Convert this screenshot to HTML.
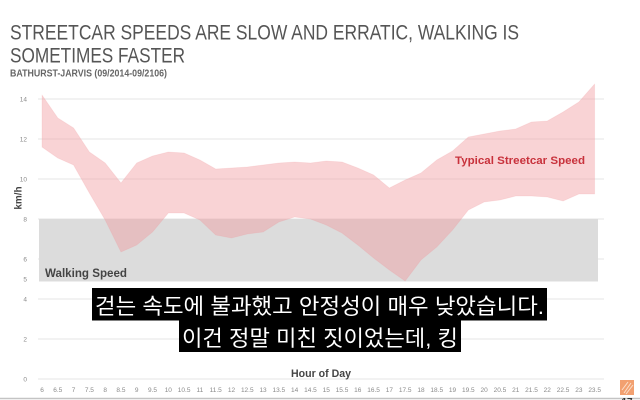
<!DOCTYPE html>
<html><head><meta charset="utf-8"><style>
html,body{margin:0;padding:0;background:#fff;}
svg{display:block;}
</style></head><body>
<svg width="640" height="400" viewBox="0 0 640 400" xmlns="http://www.w3.org/2000/svg">
<rect width="640" height="400" fill="#fff"/>
<!-- Title -->
<g font-family="Liberation Sans, sans-serif" fill="#555">
<text x="10" y="39.5" font-size="21" textLength="509" lengthAdjust="spacingAndGlyphs">STREETCAR SPEEDS ARE SLOW AND ERRATIC, WALKING IS</text>
<text x="10" y="62.5" font-size="21" textLength="175" lengthAdjust="spacingAndGlyphs">SOMETIMES FASTER</text>
<text x="10" y="76.5" font-size="10.5" font-weight="bold" fill="#666" textLength="157" lengthAdjust="spacingAndGlyphs">BATHURST-JARVIS (09/2014-09/2106)</text>
</g>
<!-- gridlines -->
<g stroke="#e6e6e6" stroke-width="1">
<line x1="38" y1="99" x2="604" y2="99"/>
<line x1="38" y1="139" x2="604" y2="139"/>
<line x1="38" y1="179" x2="604" y2="179"/>
<line x1="38" y1="219" x2="604" y2="219"/>
<line x1="38" y1="259" x2="604" y2="259"/>
<line x1="38" y1="299" x2="604" y2="299"/>
<line x1="38" y1="339" x2="604" y2="339"/>
<line x1="38" y1="379" x2="604" y2="379"/>
</g>
<!-- walking speed box -->
<rect x="39" y="219" width="559" height="62.5" fill="#dcdcdc"/>
<!-- band -->
<polygon fill="rgba(241,150,154,0.42)" stroke="rgba(241,150,154,0.2)" stroke-width="0.8" stroke-linejoin="round" points="42,95 57.79,118 73.58,128 89.37,152 105.16,163 120.95,183 136.74,163 152.53,156 168.32,152 184.11,153 199.9,160 215.69,169 231.48,168 247.27,167 263.06,165 278.85,163 294.64,162 310.43,163 326.22,161 342.01,162 357.8,168 373.59,175 389.38,188 405.17,180 420.96,173 436.75,160 452.54,151 468.33,137 484.12,134 499.91,131 515.7,129 531.49,122 547.28,121 563.07,112 578.86,102 594.65,84 594.65,194 578.86,194 563.07,201 547.28,197 531.49,196 515.7,196 499.91,200 484.12,202 468.33,210 452.54,230 436.75,247 420.96,260 405.17,281 389.38,270 373.59,258 357.8,245 342.01,233 326.22,225 310.43,219 294.64,217 278.85,222 263.06,232 247.27,234 231.48,238 215.69,235 199.9,220 184.11,213 168.32,213 152.53,232 136.74,245 120.95,252 105.16,220 89.37,193 73.58,165 57.79,158 42,147"/>
<!-- labels in chart -->
<g font-family="Liberation Sans, sans-serif" font-weight="bold">
<text x="45" y="277" font-size="11.5" fill="#444" textLength="82" lengthAdjust="spacingAndGlyphs">Walking Speed</text>
<text x="455" y="164" font-size="11" fill="#c8323c" textLength="130" lengthAdjust="spacingAndGlyphs">Typical Streetcar Speed</text>
<text x="291" y="377" font-size="11" fill="#444" textLength="60" lengthAdjust="spacingAndGlyphs">Hour of Day</text>
<text transform="translate(21.5,198) rotate(-90)" text-anchor="middle" font-size="10" fill="#444">km/h</text>
</g>
<!-- y ticks -->
<g font-family="Liberation Sans, sans-serif" font-size="6.5" fill="#8a8a8a" text-anchor="end">
<text x="27" y="101.5">14</text>
<text x="27" y="141.5">12</text>
<text x="27" y="181.5">10</text>
<text x="27" y="221.5">8</text>
<text x="27" y="261.5">6</text>
<text x="27" y="281.5">5</text>
<text x="27" y="301.5">4</text>
<text x="27" y="341.5">2</text>
<text x="27" y="381.5">0</text>
</g>
<!-- x ticks -->
<g font-family="Liberation Sans, sans-serif" font-size="6.5" fill="#8a8a8a" text-anchor="middle">
<text x="42" y="392">6</text><text x="57.79" y="392">6.5</text><text x="73.58" y="392">7</text><text x="89.37" y="392">7.5</text>
<text x="105.16" y="392">8</text><text x="120.95" y="392">8.5</text><text x="136.74" y="392">9</text><text x="152.53" y="392">9.5</text>
<text x="168.32" y="392">10</text><text x="184.11" y="392">10.5</text><text x="199.9" y="392">11</text><text x="215.69" y="392">11.5</text>
<text x="231.48" y="392">12</text><text x="247.27" y="392">12.5</text><text x="263.06" y="392">13</text><text x="278.85" y="392">13.5</text>
<text x="294.64" y="392">14</text><text x="310.43" y="392">14.5</text><text x="326.22" y="392">15</text><text x="342.01" y="392">15.5</text>
<text x="357.8" y="392">16</text><text x="373.59" y="392">16.5</text><text x="389.38" y="392">17</text><text x="405.17" y="392">17.5</text>
<text x="420.96" y="392">18</text><text x="436.75" y="392">18.5</text><text x="452.54" y="392">19</text><text x="468.33" y="392">19.5</text>
<text x="484.12" y="392">20</text><text x="499.91" y="392">20.5</text><text x="515.7" y="392">21</text><text x="531.49" y="392">21.5</text>
<text x="547.28" y="392">22</text><text x="563.07" y="392">22.5</text><text x="578.86" y="392">23</text><text x="594.65" y="392">23.5</text>
</g>
<!-- subtitles -->
<rect x="92" y="288" width="455" height="32.5" fill="#000"/>
<rect x="179" y="320" width="282" height="32" fill="#000"/>
<g font-family="Liberation Sans, Noto Sans CJK KR, sans-serif" fill="#fff" font-size="22">
<text x="95" y="314" textLength="449" lengthAdjust="spacingAndGlyphs">걷는 속도에 불과했고 안정성이 매우 낮았습니다.</text>
<text x="182" y="346" textLength="276" lengthAdjust="spacingAndGlyphs">이건 정말 미친 짓이었는데, 킹</text>
</g>
<!-- bottom line, logo, page number -->
<line x1="0" y1="398.5" x2="640" y2="398.5" stroke="#c4c4c4" stroke-width="1.5"/>
<rect x="620" y="380" width="14" height="15" fill="#f2a070"/>
<path d="M624 393 L631 383 M626 394 L633 385 M622 390 L628 382" stroke="#fbe0cc" stroke-width="1"/>
<text x="627" y="405" font-family="Liberation Sans, sans-serif" font-size="10" font-weight="bold" fill="#333" text-anchor="middle">17</text>
</svg>
</body></html>
